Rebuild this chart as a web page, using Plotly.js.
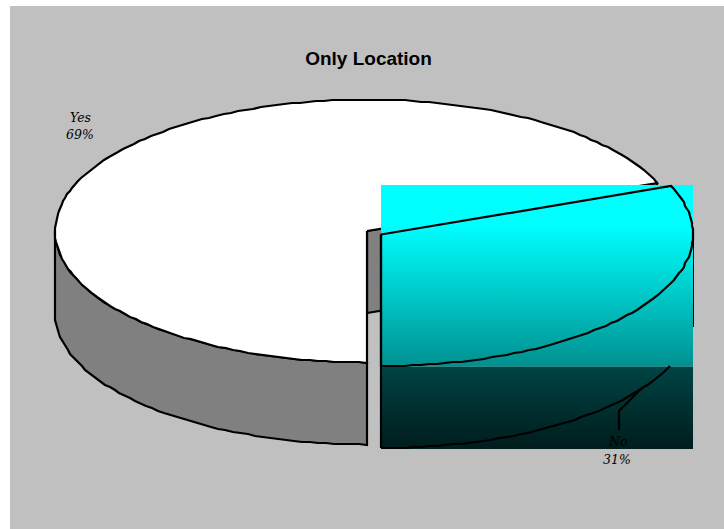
<!DOCTYPE html>
<html>
<head>
<meta charset="utf-8">
<script src="https://cdn.plot.ly/plotly-3.0.1.min.js"></script>
<style>html,body{margin:0;padding:0;background:#fff}#chart{width:724px;height:529px}</style>
</head>
<body>
<div id="chart"></div>
<script>
// Pie data
const categories = ['Yes', 'No'];
const shares = [69, 31];

// Gradient bands of the "No" wedge, bottom colour first (0 = bottom of the band)
const faceScale = [[0, '#009090'], [0.78, '#00ffff'], [1, '#00ffff']];
const wallScale = [[0, '#001c1c'], [1, '#004444']];

// Tilted-disc geometry on a page-sized axis
const RX = 312, RY = 131.5, DEPTH = 82;
const yesCentre = [367, 231];
const noCentre = [381, 234.5];
const noBand = {x0: 381, x1: 693, y0: 185, split: 366.5, y1: 449};
const STROKE = 2.2;

// Boundary between wedges: slices run clockwise from the bottom of the disc
const boundary = 270 - shares[0] / 100 * 360;

function rimPoint(c, deg, drop) {
  const t = deg * Math.PI / 180;
  return [Math.round(c[0] + RX * Math.cos(t)), Math.round(c[1] - RY * Math.sin(t) + (drop || 0))];
}

function arc(c, from, to, drop) {
  const xs = [], ys = [];
  const n = Math.ceil(Math.abs(to - from) / 1.5);
  for (let i = 0; i <= n; i++) {
    const p = rimPoint(c, from + (to - from) * i / n, drop);
    xs.push(p[0]);
    ys.push(p[1]);
  }
  return [xs, ys];
}

function poly(xs, ys, fill, line) {
  return {
    type: 'scatter', mode: line ? 'lines' : 'none', x: xs, y: ys,
    fill: fill ? 'toself' : 'none', fillcolor: fill || undefined,
    line: {color: '#000', width: line || 0, shape: 'linear'},
    hoverinfo: 'skip', showlegend: false
  };
}

function gradientRect(x0, x1, y0, y1, scale) {
  const t = poly([x0, x1, x1, x0, x0], [y0, y0, y1, y1, y0], null, 0);
  t.fill = 'toself';
  t.mode = 'none';
  t.fillgradient = {type: 'vertical', colorscale: scale};
  return t;
}

const traces = [];

// Yes wedge: cut wall, outer wall, top face
const end = rimPoint(yesCentre, boundary);
traces.push(poly(
  [yesCentre[0], end[0], end[0], yesCentre[0], yesCentre[0]],
  [yesCentre[1], end[1], end[1] + DEPTH, yesCentre[1] + DEPTH, yesCentre[1]], '#808080', STROKE));

const [wax, way] = arc(yesCentre, 180, 270);
const [wbx, wby] = arc(yesCentre, 270, 180, DEPTH);
traces.push(poly(wax.concat(wbx, wax[0]), way.concat(wby, way[0]), '#808080', STROKE));

const [fx, fy] = arc(yesCentre, boundary, 270);
traces.push(poly(
  [yesCentre[0]].concat(fx, yesCentre[0]),
  [yesCentre[1]].concat(fy, yesCentre[1]), '#ffffff', STROKE));

// No wedge: the gradient bands, then its outlines on top
traces.push(gradientRect(noBand.x0, noBand.x1, noBand.split, noBand.y1, wallScale));
traces.push(gradientRect(noBand.x0, noBand.x1, noBand.y0, noBand.split, faceScale));

const [nax, nay] = arc(noCentre, boundary, -90);
traces.push(poly(
  [noCentre[0]].concat(nax, noCentre[0]),
  [noCentre[1]].concat(nay, noCentre[1]), null, STROKE));

const [nbx, nby] = arc(noCentre, -90, -22, DEPTH);
traces.push(poly(nbx, nby, null, STROKE));
traces.push(poly([noCentre[0], noCentre[0]], [noCentre[1], noCentre[1] + RY + DEPTH], null, STROKE));
traces.push(poly([noBand.x1 + 0.5, noBand.x1 + 0.5], [noCentre[1], 327], null, 1));

// Leader line for the No label
traces.push(poly([643, 619, 619], [387, 411, 430], null, STROKE));

const labelFont = {family: '"DejaVu Serif", serif', size: 12.5, color: '#000'};
function pieLabel(text, x, y) {
  return {xref: 'x', yref: 'y', x, y, showarrow: false, text: '<i>' + text + '</i>', font: labelFont};
}

const layout = {
  width: 724, height: 529,
  margin: {l: 0, r: 0, t: 0, b: 0},
  paper_bgcolor: '#ffffff', plot_bgcolor: 'rgba(0,0,0,0)',
  showlegend: false,
  title: {
    text: '<b>Only Location</b>',
    font: {family: '"Liberation Sans", Arial, sans-serif', size: 19, color: '#000'},
    x: 368.5 / 724, xanchor: 'center', y: 1 - 58 / 529, yanchor: 'middle'
  },
  xaxis: {range: [0, 724], visible: false, fixedrange: true},
  yaxis: {range: [529, 0], visible: false, fixedrange: true},
  shapes: [{type: 'rect', layer: 'below', xref: 'x', yref: 'y', x0: 10, x1: 724, y0: 6, y1: 529,
            fillcolor: '#c0c0c0', line: {width: 0}}],
  annotations: [
    pieLabel(categories[0], 80, 117), pieLabel(shares[0] + '%', 80, 134),
    pieLabel(categories[1], 617, 441), pieLabel(shares[1] + '%', 617, 459)
  ]
};

Plotly.newPlot('chart', traces, layout, {staticPlot: true, displayModeBar: false});
</script>
</body>
</html>
